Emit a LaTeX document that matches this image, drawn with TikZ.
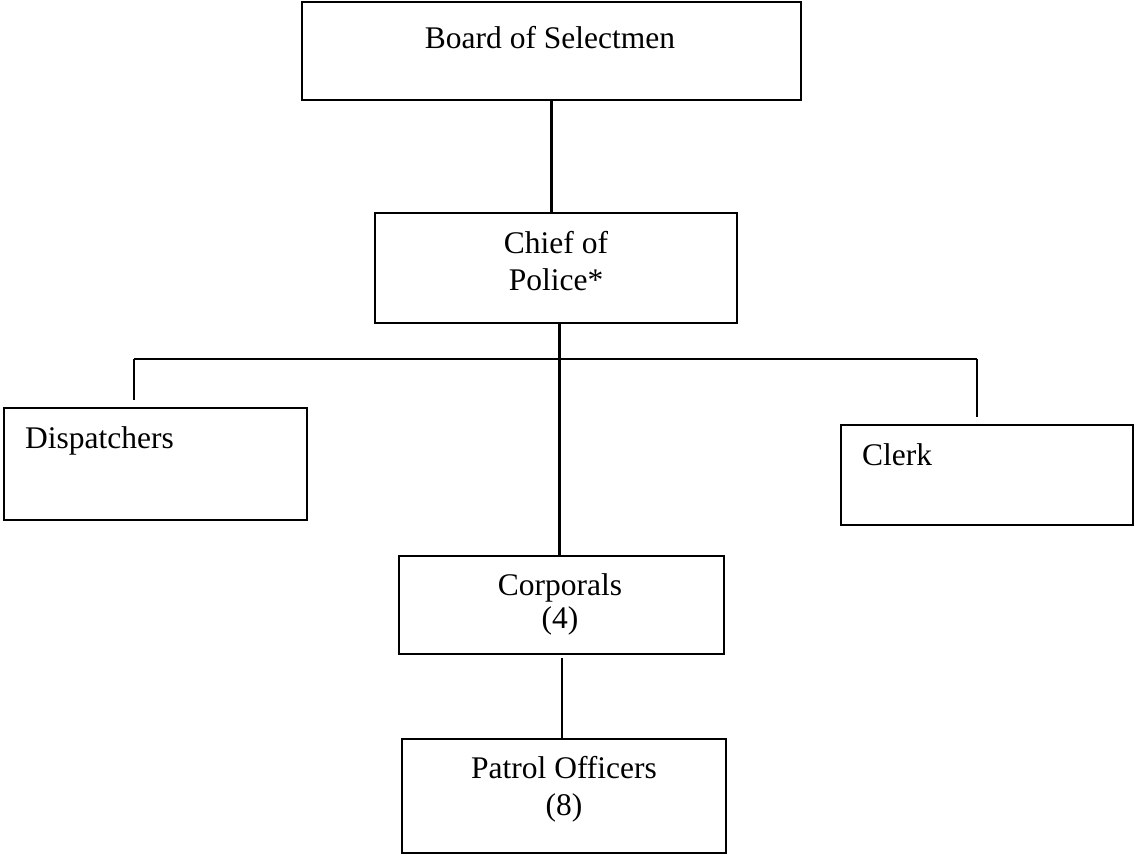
\documentclass[tikz,border=0pt]{standalone}
\usepackage{fontspec}
\setmainfont{Liberation Serif}
\begin{document}
\begin{tikzpicture}[x=1pt,y=-1pt,
  orgbox/.style={draw=black,line width=2.6pt,rectangle,inner sep=0pt,minimum width=#1},
  lbl/.style={inner sep=0pt,font=\fontsize{31.5}{37}\selectfont,align=center},
  conn/.style={draw=black,line width=2.3pt}]
\useasboundingbox (0,0) rectangle (1136,855);
% boxes
\node[orgbox=499pt,minimum height=98pt] (board) at (551.5,51) {};
\node[orgbox=362pt,minimum height=110pt] (chief) at (556,268) {};
\node[orgbox=303pt,minimum height=112pt] (disp) at (155.5,464) {};
\node[orgbox=292pt,minimum height=100pt] (clerk) at (987,475) {};
\node[orgbox=325pt,minimum height=98pt] (corp) at (561.5,605) {};
\node[orgbox=324pt,minimum height=114pt] (patrol) at (564,796) {};
% texts
\node[lbl,anchor=base] (tboard) at (550,48) {Board of Selectmen};
\node[lbl,anchor=base] (tchief1) at (556,253) {Chief of};
\node[lbl,anchor=base] (tchief2) at (556,290) {Police*};
\node[lbl,anchor=base west] (tdisp) at (25,448) {Dispatchers};
\node[lbl,anchor=base west] (tclerk) at (862,465) {Clerk};
\node[lbl,anchor=base] (tcorp1) at (560,595) {Corporals};
\node[lbl,anchor=base] (tcorp2) at (560,628) {(4)};
\node[lbl,anchor=base] (tpat1) at (564,778) {Patrol Officers};
\node[lbl,anchor=base] (tpat2) at (564,815) {(8)};
% connector coordinates
\coordinate (cbot) at (559.5,324);
\coordinate (hl) at (134,359);
\coordinate (hr) at (977,359);
\coordinate (dend) at (134,400);
\coordinate (cend) at (977,417);
\coordinate (ptop) at (562,658);
% connectors
\draw[conn] (board.south) -- (board.south |- chief.north);
\draw[conn] (cbot) -- (cbot |- corp.north);
\draw[conn] (hl) -- (hr);
\draw[conn] (hl) -- (dend);
\draw[conn] (hr) -- (cend);
\draw[conn] (ptop) -- (ptop |- patrol.north);
\end{tikzpicture}
\end{document}
